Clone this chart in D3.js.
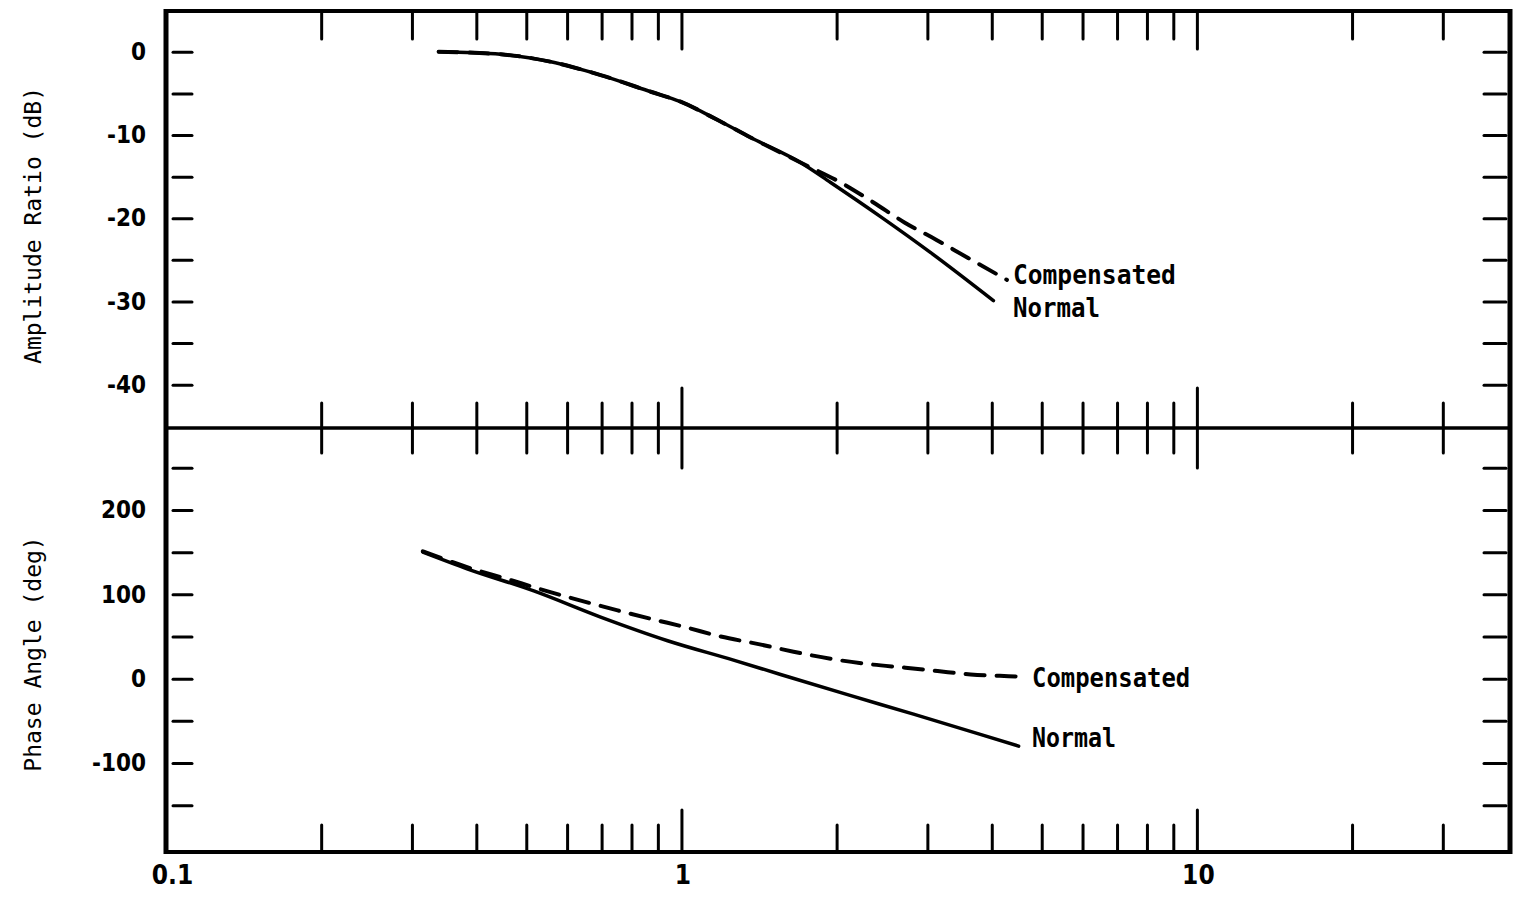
<!DOCTYPE html>
<html>
<head>
<meta charset="utf-8">
<script src="https://cdn.jsdelivr.net/npm/d3@7"></script>
<style>
  body { margin: 0; background: #fff; }
  svg { display: block; }
  .tick-label text, .xlab text {
    font-family: 'DejaVu Sans Condensed', 'DejaVu Sans', sans-serif;
    font-stretch: condensed;
    font-weight: bold;
    font-size: 24px;
    fill: #000;
  }
  .xlab text { font-size: 26px; }
  .title {
    font-family: 'DejaVu Sans Mono', monospace;
    font-size: 23px;
    fill: #000;
  }
  .series-label {
    font-family: 'DejaVu Sans Mono', monospace;
    font-weight: bold;
    font-size: 26px;
    fill: #000;
  }
</style>
</head>
<body>
<svg id="chart" width="1516" height="901"></svg>
<script>
// frequency ticks (log axis)
let xMinorTicks = [0.2, 0.3, 0.4, 0.5, 0.6, 0.7, 0.8, 0.9, 2, 3, 4, 5, 6, 7, 8, 9, 20, 30];
let xMajorTicks = [1, 10];
let xLabelTicks = [0.1, 1, 10];

// amplitude panel ticks
let ampTicks = [0, -5, -10, -15, -20, -25, -30, -35, -40];
let ampLabelTicks = [0, -10, -20, -30, -40];

// phase panel ticks
let phaseTicks = [250, 200, 150, 100, 50, 0, -50, -100, -150];
let phaseLabelTicks = [200, 100, 0, -100];

// amplitude ratio (dB) vs frequency
let ampNormalFreq = [0.338, 0.446, 0.558, 0.697, 0.872, 0.996, 1.176, 1.362, 1.702, 1.947, 2.433, 3.04, 4.03];
let ampNormal = [0, -0.3, -1.2, -2.8, -4.8, -6.0, -8.2, -10.3, -13.3, -15.7, -19.8, -24.1, -29.9];
let ampCompFreq = [0.338, 0.446, 0.558, 0.697, 0.872, 0.996, 1.176, 1.362, 1.702, 2.063, 2.358, 2.708, 3.125, 3.605, 4.28];
let ampComp = [0, -0.3, -1.2, -2.8, -4.8, -6.0, -8.2, -10.3, -13.3, -15.9, -18.1, -20.5, -22.6, -24.8, -27.4];

// phase angle (deg) vs frequency
let phNormalFreq = [0.315, 0.385, 0.517, 0.697, 0.94, 1.262, 1.557, 2.10, 2.82, 3.80, 4.51];
let phNormal = [150, 130, 104, 73, 45, 22, 5, -19, -42, -66, -80];
let phCompFreq = [0.315, 0.385, 0.46, 0.533, 0.643, 0.752, 0.872, 1.019, 1.191, 1.411, 1.65, 1.973, 2.327, 2.72, 3.14, 3.64, 4.31, 4.54];
let phComp = [151, 132, 118, 106, 92, 81, 71, 61, 50, 41, 32, 23, 17, 13, 9, 5, 3, 2.5];

let svg = d3.select('#chart');

let xScale = d3.scaleLog().domain([0.1, 40.5]).range([166, 1510]);
let yAmp = d3.scaleLinear().domain([-45.2, 4.9]).range([428, 11]);
let yPhase = d3.scaleLinear().domain([-205.5, 297.2]).range([852, 428]);

let frameLeft = xScale.range()[0];
let frameRight = xScale.range()[1];
let frameTop = yAmp.range()[1];
let frameMid = yAmp.range()[0];
let frameBottom = yPhase.range()[0];

function cleanAxis(g) {
  g.select('.domain').remove();
  g.selectAll('line')
    .attr('stroke', '#000')
    .attr('stroke-width', 3)
    .attr('stroke-linecap', 'round');
}

// frequency ticks on top edge, middle divider and bottom edge
function xTicks(axisFn, y, values, size) {
  svg.append('g')
    .attr('transform', `translate(0,${y})`)
    .call(axisFn(xScale).tickValues(values).tickSize(size).tickFormat(''))
    .call(cleanAxis);
}
xTicks(d3.axisBottom, frameTop, xMinorTicks, 28);
xTicks(d3.axisBottom, frameTop, xMajorTicks, 38);
xTicks(d3.axisBottom, frameMid, xMinorTicks, 25);
xTicks(d3.axisTop, frameMid, xMinorTicks, 25);
xTicks(d3.axisBottom, frameMid, xMajorTicks, 40);
xTicks(d3.axisTop, frameMid, xMajorTicks, 40);
xTicks(d3.axisTop, frameBottom, xMinorTicks, 27);
xTicks(d3.axisTop, frameBottom, xMajorTicks, 42);

// y ticks inside the frame on both sides
function yTicks(scale, values) {
  svg.append('g')
    .attr('transform', `translate(${frameLeft + 7},0)`)
    .call(d3.axisRight(scale).tickValues(values).tickSize(19).tickFormat(''))
    .call(cleanAxis);
  svg.append('g')
    .attr('transform', `translate(${frameRight - 4},0)`)
    .call(d3.axisLeft(scale).tickValues(values).tickSize(22).tickFormat(''))
    .call(cleanAxis);
}
yTicks(yAmp, ampTicks);
yTicks(yPhase, phaseTicks);

// y tick labels (plain hyphen for negatives, as on the original)
function yLabels(scale, values) {
  svg.append('g')
    .attr('class', 'tick-label')
    .attr('transform', `translate(${frameLeft},0)`)
    .call(d3.axisLeft(scale).tickValues(values).tickSize(0).tickPadding(20).tickFormat(d => String(d)))
    .call(g => g.select('.domain').remove());
}
yLabels(yAmp, ampLabelTicks);
yLabels(yPhase, phaseLabelTicks);

// x labels
svg.append('g')
  .attr('class', 'xlab')
  .attr('transform', `translate(0,${frameBottom})`)
  .call(d3.axisBottom(xScale).tickValues(xLabelTicks).tickSize(0).tickPadding(14)
    .tickFormat(d => d < 1 ? '0.1' : String(d)))
  .call(g => g.select('.domain').remove())
  .selectAll('text').attr('dx', d => d < 1 ? 6 : 1);

// frame
let frame = svg.append('g').attr('stroke', '#000').attr('fill', 'none');
frame.append('line').attr('x1', frameLeft).attr('x2', frameRight).attr('y1', frameTop).attr('y2', frameTop).attr('stroke-width', 4);
frame.append('line').attr('x1', frameLeft).attr('x2', frameRight).attr('y1', frameBottom).attr('y2', frameBottom).attr('stroke-width', 4);
frame.append('line').attr('x1', frameLeft).attr('x2', frameRight).attr('y1', frameMid).attr('y2', frameMid).attr('stroke-width', 3.5);
frame.append('line').attr('x1', frameLeft).attr('x2', frameLeft).attr('y1', frameTop - 2).attr('y2', frameBottom + 2).attr('stroke-width', 5);
frame.append('line').attr('x1', frameRight).attr('x2', frameRight).attr('y1', frameTop - 2).attr('y2', frameBottom + 2).attr('stroke-width', 5);

// axis titles
svg.append('text')
  .attr('class', 'title')
  .attr('transform', `translate(41,${(frameTop + frameMid) / 2 + 6}) rotate(-90)`)
  .attr('text-anchor', 'middle')
  .text('Amplitude Ratio (dB)');
svg.append('text')
  .attr('class', 'title')
  .attr('transform', `translate(41,${(frameMid + frameBottom) / 2 + 14}) rotate(-90)`)
  .attr('text-anchor', 'middle')
  .text('Phase Angle (deg)');

// curves
function drawCurve(freqs, vals, yScale, dashed) {
  let line = d3.line()
    .x(d => xScale(d[0]))
    .y(d => yScale(d[1]))
    .curve(d3.curveMonotoneX);
  svg.append('path')
    .datum(d3.zip(freqs, vals))
    .attr('d', line)
    .attr('fill', 'none')
    .attr('stroke', '#000')
    .attr('stroke-width', dashed ? 4 : 3.5)
    .attr('stroke-linecap', 'round')
    .attr('stroke-dasharray', dashed ? '19,12' : null);
}
drawCurve(ampCompFreq, ampComp, yAmp, true);
drawCurve(ampNormalFreq, ampNormal, yAmp, false);
drawCurve(phCompFreq, phComp, yPhase, true);
drawCurve(phNormalFreq, phNormal, yPhase, false);

// series labels next to curve ends
function label(text, x, y, width) {
  svg.append('text')
    .attr('class', 'series-label')
    .attr('x', x)
    .attr('y', y)
    .attr('textLength', width)
    .attr('lengthAdjust', 'spacingAndGlyphs')
    .text(text);
}
let ampLabelX = xScale(ampCompFreq[ampCompFreq.length - 1]) + 6;
label('Compensated', ampLabelX, yAmp(ampComp[ampComp.length - 1]) + 4, 163);
label('Normal', ampLabelX, yAmp(ampNormal[ampNormal.length - 1]) + 16, 87);
let phLabelX = xScale(phCompFreq[phCompFreq.length - 1]) + 12;
label('Compensated', phLabelX, yPhase(phComp[phComp.length - 1]) + 10, 158);
label('Normal', phLabelX, yPhase(phNormal[phNormal.length - 1]) + 1, 84);
</script>
</body>
</html>
